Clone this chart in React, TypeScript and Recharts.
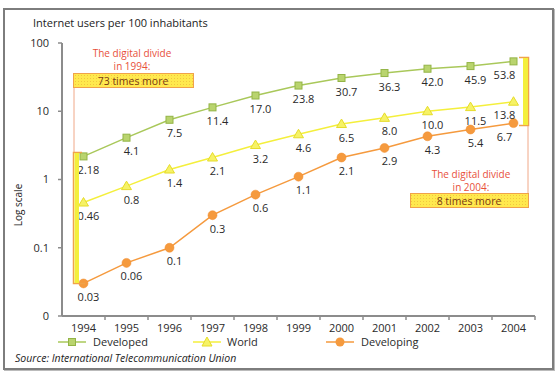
import { LineChart, Line, XAxis, YAxis } from 'recharts';

const years = ['1994', '1995', '1996', '1997', '1998', '1999', '2000', '2001', '2002', '2003', '2004'];
const developed = [2.18, 4.1, 7.5, 11.4, 17.0, 23.8, 30.7, 36.3, 42.0, 45.9, 53.8];
const world = [0.46, 0.8, 1.4, 2.1, 3.2, 4.6, 6.5, 8.0, 10.0, 11.5, 13.8];
const developing = [0.03, 0.06, 0.1, 0.3, 0.6, 1.1, 2.1, 2.9, 4.3, 5.4, 6.7];
const yTicks = [0.01, 0.1, 1, 10, 100];

const data = years.map((year, i) => ({
  year,
  developed: developed[i],
  world: world[i],
  developing: developing[i],
}));

const FONT = '"Open Sans", "DejaVu Sans", sans-serif';
const GREEN = '#a9c85a';
const YELLOW = '#f4ef3c';
const ORANGE = '#f59a3e';
const AXIS = '#8c8c8c';
const RED = '#e8503a';
const HALF_BAND = 21.5;

const fmt = (v: number) => {
  const s = String(v);
  return s.includes('.') ? s : s + '.0';
};

const valueLabel = (props: any) => {
  const { x, y, value, index } = props;
  const dx = index === years.length - 1 ? -9 : 5;
  return (
    <text x={x + dx} y={y + 13} textAnchor="middle" dominantBaseline="central" fontSize={11} fill="#2a2a2a" fontFamily={FONT}>
      {fmt(value)}
    </text>
  );
};

const squareDot = (props: any) => {
  const { cx, cy, index } = props;
  return <rect key={index} x={cx - 3.5} y={cy - 3.5} width={7} height={7} fill="#b9d46e" stroke="#93b446" strokeWidth={1} />;
};

const triangleDot = (props: any) => {
  const { cx, cy, index } = props;
  return (
    <polygon key={index} points={`${cx},${cy - 5} ${cx - 5},${cy + 3.5} ${cx + 5},${cy + 3.5}`} fill="#f6f266" stroke="#e6dc2a" strokeWidth={1} />
  );
};

const circleDot = (props: any) => {
  const { cx, cy, index } = props;
  return <circle key={index} cx={cx} cy={cy} r={4.5} fill={ORANGE} stroke="#f08a2a" strokeWidth={0.5} />;
};

const XTick = (props: any) => {
  const { x, y, payload } = props;
  return (
    <g>
      <text x={x} y={y + 3} textAnchor="middle" dominantBaseline="central" fontSize={11} fill="#2a2a2a" fontFamily={FONT}>
        {payload.value}
      </text>
      <line x1={x + HALF_BAND} x2={x + HALF_BAND} y1={y - 8} y2={y - 4} stroke={AXIS} strokeWidth={1.5} />
    </g>
  );
};

function Legend() {
  const item = (left: number, icon: any, label: string, textLeft: number) => (
    <div key={label}>
      <svg style={{ position: 'absolute', left, top: 336 }} width={28} height={12}>
        {icon}
      </svg>
      <div style={{ position: 'absolute', left: textLeft, top: 334, fontSize: 11, fontFamily: FONT, color: '#2a2a2a', lineHeight: '16px' }}>{label}</div>
    </div>
  );
  return (
    <>
      {item(58, <g><line x1={0} x2={28} y1={6} y2={6} stroke={GREEN} strokeWidth={1.5} /><rect x={10.5} y={2.5} width={7} height={7} fill="#b9d46e" stroke="#93b446" /></g>, 'Developed', 93)}
      {item(193, <g><line x1={0} x2={28} y1={6} y2={6} stroke={YELLOW} strokeWidth={1.5} /><polygon points="14,1 9,10 19,10" fill="#f6f266" stroke="#e6dc2a" /></g>, 'World', 227)}
      {item(326, <g><line x1={0} x2={28} y1={6} y2={6} stroke={ORANGE} strokeWidth={1.5} /><circle cx={14} cy={6} r={4.5} fill={ORANGE} /></g>, 'Developing', 361)}
    </>
  );
}

function Annotations() {
  const boxText = { fontSize: 10.5, fontFamily: FONT, fill: '#7a3a14' } as const;
  const redText = { fontSize: 10, fontFamily: FONT, fill: RED } as const;
  return (
    <svg style={{ position: 'absolute', left: 0, top: 0, pointerEvents: 'none' }} width={559} height={377}>
      <defs>
        <pattern id="dots" width="3" height="3" patternUnits="userSpaceOnUse">
          <rect width="3" height="3" fill="#ffe94e" />
          <rect width="1" height="1" fill="#f2c640" />
        </pattern>
      </defs>
      {/* 1994 */}
      <text x={132} y={52.5} textAnchor="middle" dominantBaseline="central" {...redText}>The digital divide</text>
      <text x={132} y={65.5} textAnchor="middle" dominantBaseline="central" {...redText}>in 1994:</text>
      <rect x={73.5} y={73.5} width={120} height={14} fill="url(#dots)" stroke="#f0a24a" strokeWidth={1} />
      <text x={133} y={80.5} textAnchor="middle" dominantBaseline="central" {...boxText}>73 times more</text>
      <line x1={74} x2={74} y1={88} y2={152} stroke="#f0a888" strokeWidth={1} />
      <path d="M82,152.5 H73.5 V283.5 H85" fill="none" stroke="#f0a24a" strokeWidth={1.5} />
      <rect x={74.5} y={153} width={4.5} height={130} fill={YELLOW} />
      {/* 2004 */}
      <path d="M519,57.5 H528.5 V125.5 H519" fill="none" stroke="#f0a24a" strokeWidth={1.5} />
      <rect x={523} y={58} width={5} height={67} fill={YELLOW} />
      <line x1={528} x2={528} y1={126} y2={194} stroke="#f0a888" strokeWidth={1} />
      <text x={471} y={173.5} textAnchor="middle" dominantBaseline="central" {...redText}>The digital divide</text>
      <text x={471} y={186.5} textAnchor="middle" dominantBaseline="central" {...redText}>in 2004:</text>
      <rect x={410.5} y={193.5} width={118} height={14} fill="url(#dots)" stroke="#f0a24a" strokeWidth={1} />
      <text x={469} y={200.5} textAnchor="middle" dominantBaseline="central" {...boxText}>8 times more</text>
    </svg>
  );
}

export default function App() {
  return (
    <div style={{ position: 'absolute', left: 0, top: 0, width: 559, height: 377, background: '#fff', fontFamily: FONT }}>
      <div style={{ position: 'absolute', left: 3, top: 8, width: 547, height: 358, border: '2px solid #7d7d7d', boxShadow: '1px 1px 0 #bbb' }} />
      <div style={{ position: 'absolute', left: 33, top: 15, fontSize: 11, color: '#222', lineHeight: '16px' }}>
        Internet users per 100 inhabitants
      </div>
      <div style={{ position: 'absolute', left: 18, top: 205, transform: 'translate(-50%, -50%) rotate(-90deg)', fontSize: 10, color: '#222', whiteSpace: 'nowrap' }}>
        Log scale
      </div>
      <div style={{ position: 'absolute', left: 0, top: 0 }}>
        <LineChart width={559} height={377} data={data} margin={{ top: 43, right: 24, bottom: 31, left: 0 }}>
          <XAxis
            dataKey="year"
            height={30}
            padding={{ left: HALF_BAND, right: HALF_BAND }}
            axisLine={{ stroke: AXIS, strokeWidth: 2 }}
            tickLine={false}
            tick={<XTick />}
            interval={0}
          />
          <YAxis
            width={62}
            scale="log"
            domain={[0.01, 100]}
            ticks={yTicks}
            allowDataOverflow
            axisLine={{ stroke: AXIS, strokeWidth: 2 }}
            tickLine={{ stroke: AXIS, strokeWidth: 1.5 }}
            tickSize={4}
            tickMargin={9}
            tickFormatter={(v: number) => (v === 0.01 ? '0' : String(v))}
            tick={{ fontSize: 11, fill: '#2a2a2a', fontFamily: FONT }}
          />
          <Line dataKey="developed" stroke={GREEN} strokeWidth={1.5} dot={squareDot} label={valueLabel} isAnimationActive={false} />
          <Line dataKey="world" stroke={YELLOW} strokeWidth={1.5} dot={triangleDot} label={valueLabel} isAnimationActive={false} />
          <Line dataKey="developing" stroke={ORANGE} strokeWidth={1.5} dot={circleDot} label={valueLabel} isAnimationActive={false} />
        </LineChart>
      </div>
      <Annotations />
      <Legend />
      <div style={{ position: 'absolute', left: 15, top: 350, fontSize: 10.5, fontStyle: 'italic', color: '#222', lineHeight: '16px' }}>
        Source: International Telecommunication Union
      </div>
    </div>
  );
}
